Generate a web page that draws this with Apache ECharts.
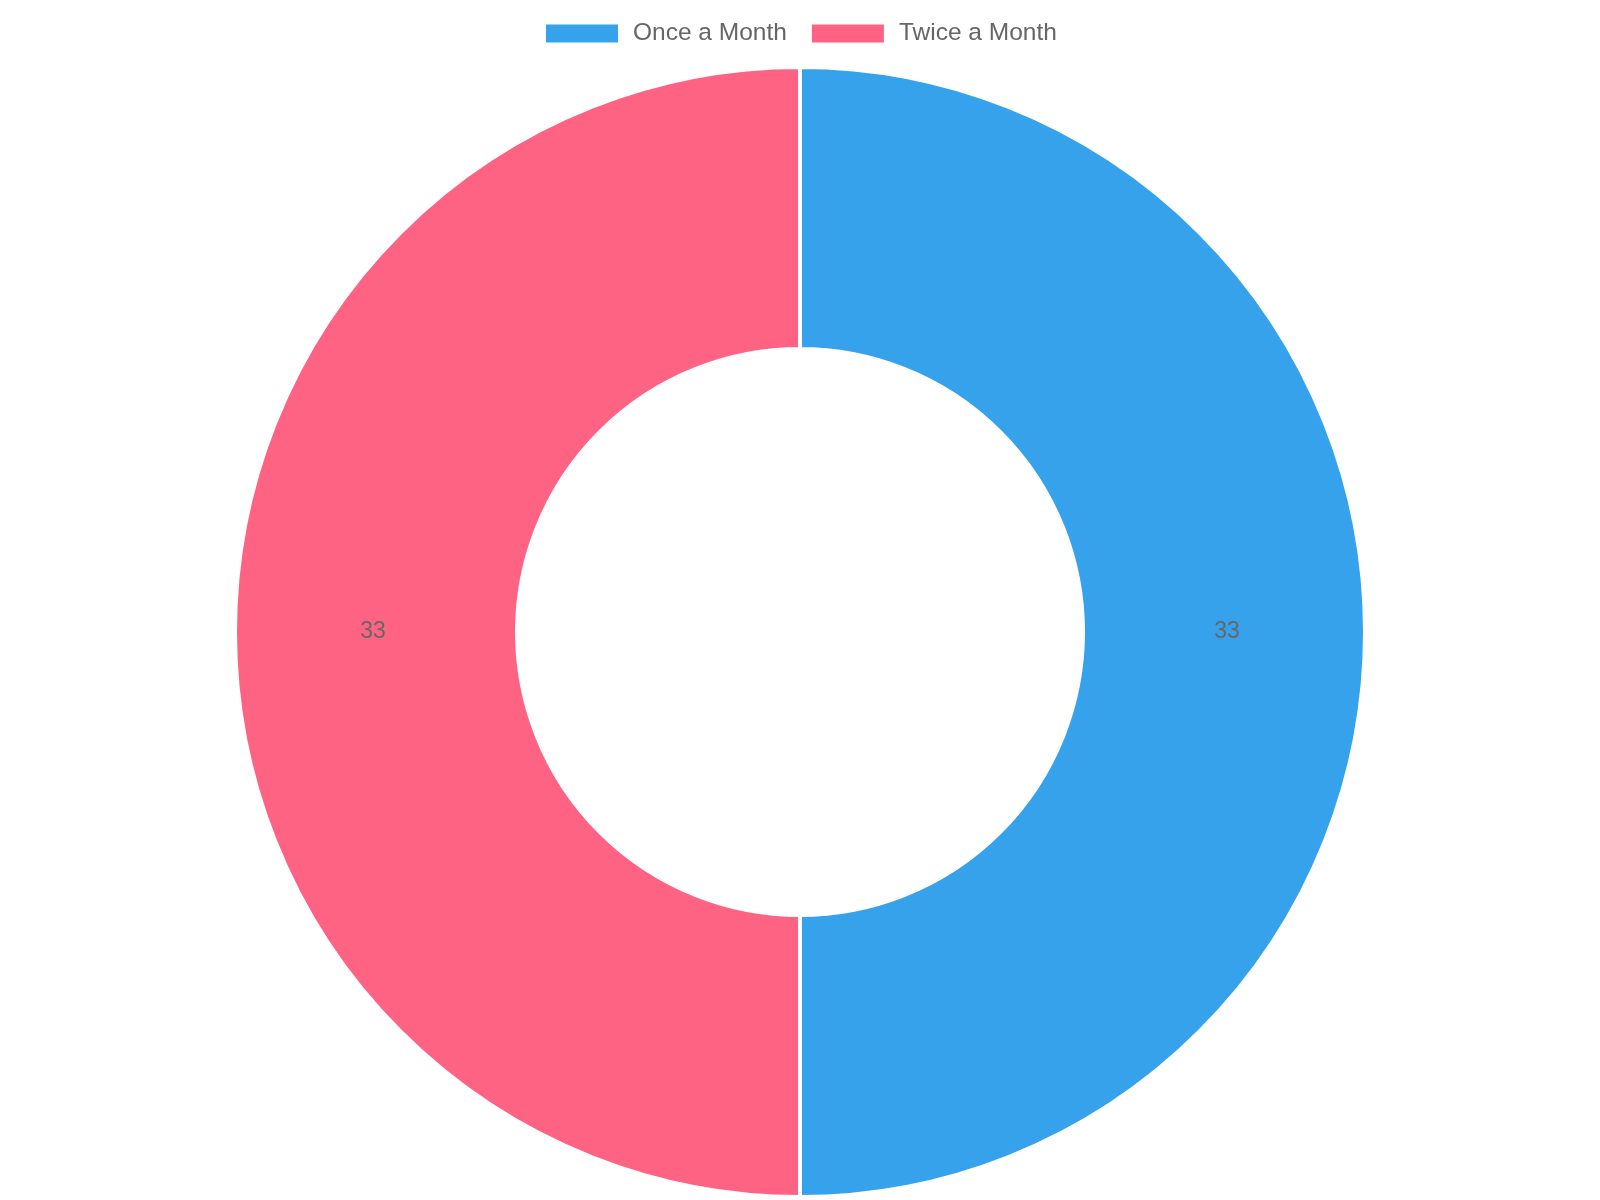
<!DOCTYPE html>
<html>
<head>
<meta charset="utf-8">
<script src="https://cdn.jsdelivr.net/npm/echarts@6/dist/echarts.min.js"></script>
<style>
  html, body { margin: 0; padding: 0; background: #fff; }
  #main { width: 1600px; height: 1200px; }
</style>
</head>
<body>
<div id="main"></div>
<script>
// chart data
var categories = ['Once a Month', 'Twice a Month'];
var values = [33, 33];
var colors = ['#36A2EB', '#FF6384'];

var myChart = echarts.init(document.getElementById('main'));

var pieData = categories.map(function (name, i) {
    return { name: name, value: values[i], itemStyle: { color: colors[i] } };
});

var option = {
    animation: false,
    textStyle: {
        fontFamily: 'Liberation Sans, Arial, Helvetica, sans-serif'
    },
    legend: {
        top: 16,
        left: 539,
        itemWidth: 74,
        itemHeight: 20,
        itemGap: 23,
        icon: 'rect',
        textStyle: {
            color: '#666',
            fontSize: 24.5,
            padding: [0, 0, 0, 9]
        },
        data: categories
    },
    series: [{
        type: 'pie',
        center: [800, 632],
        radius: [283, 565],
        startAngle: 90,
        clockwise: true,
        itemStyle: {
            borderColor: '#fff',
            borderWidth: 4
        },
        label: {
            show: true,
            position: 'inside',
            formatter: '{c}',
            color: '#666',
            fontSize: 23,
            padding: [3, 0, 0, 0]
        },
        labelLine: { show: false },
        emphasis: { disabled: true },
        data: pieData
    }]
};

myChart.setOption(option);
</script>
</body>
</html>
